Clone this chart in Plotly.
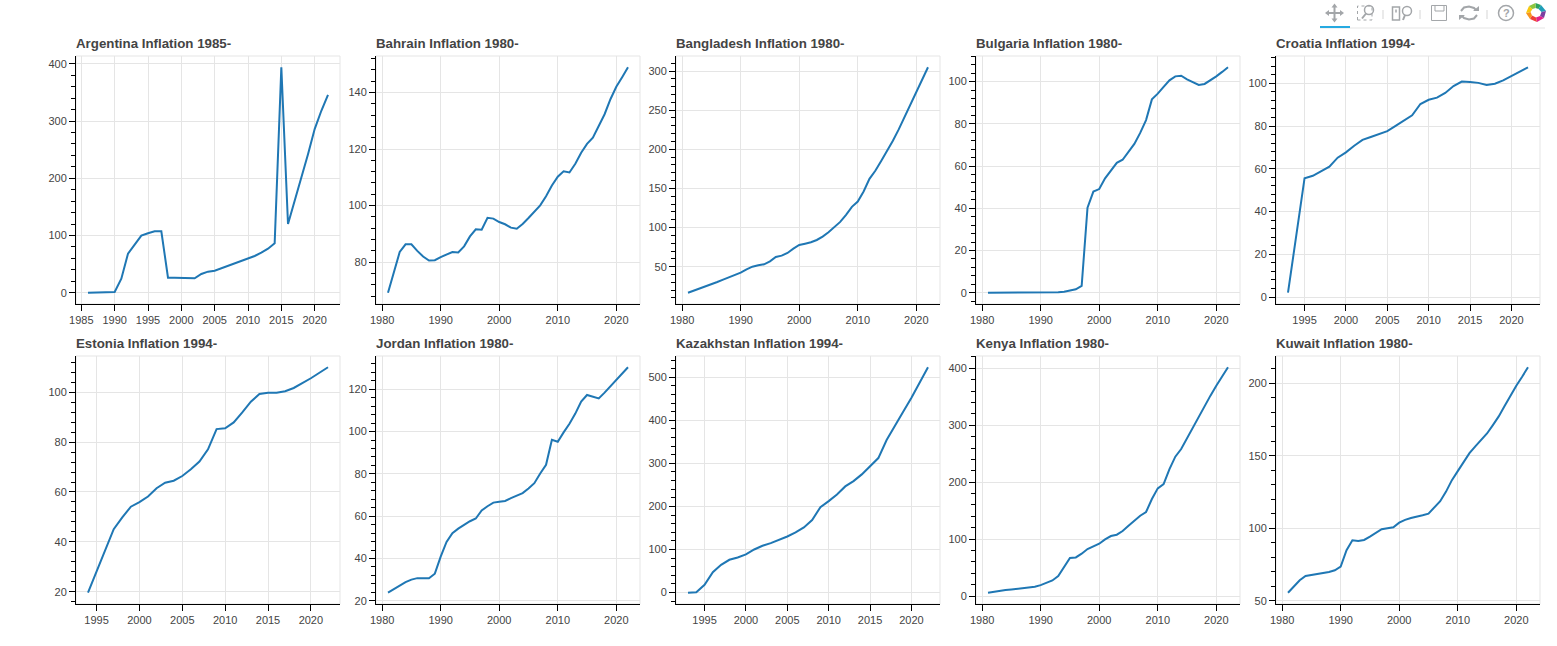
import plotly.graph_objects as go

W, H = 1557, 646

argentina_years = list(range(1986, 2023))
argentina = [0, 0, 0, 0.1, 1.2, 24.5, 68.3, 84, 99.9, 104, 107.4, 107.4, 26.3, 26.1, 25.7, 25.5, 25.1,
             32.7, 36.8, 38.5, 42.6, 47.3, 51.4, 55.5, 59, 64.2, 70, 77, 86.4, 394, 120, 160.6, 198, 242,
             286, 318, 345.7]
bahrain_years = list(range(1981, 2023))
bahrain = [69.2, 76.7, 83.6, 86.3, 86.3, 84, 82, 80.6, 80.7, 81.8, 82.8, 83.6, 83.4, 85.6, 89.1, 91.6,
           91.5, 95.7, 95.4, 94.2, 93.4, 92.2, 91.8, 93.5, 95.6, 98, 100.1, 103.3, 107.1, 110.2, 112.1,
           111.7, 114.8, 118.7, 121.8, 124, 128.4, 132.3, 137.6, 142, 145.4, 148.9]
bangladesh_years = list(range(1981, 2023))
bangladesh = [16.7, 19.3, 21.8, 24.4, 27.4, 30.4, 33.4, 36.3, 39.3, 42.3, 46.6, 50, 51.7, 53, 56.8, 62.4,
              64.1, 67.5, 73, 77.7, 79.4, 81.2, 84.1, 88.4, 94, 100.4, 107.2, 116.2, 126.4, 133.2, 146,
              162.2, 172.5, 184.9, 197.7, 210.9, 225.4, 241.2, 257, 272.8, 288.6, 304.8]
bulgaria_years = list(range(1981, 2023))
bulgaria = [0, 0, 0, 0, 0, 0, 0, 0, 0, 0, 0.05, 0.1, 0.2, 0.5, 1.0, 1.6, 3.2, 40.3, 47.9, 49.1, 54.2, 58.1,
            61.5, 63, 66.7, 70.5, 75.7, 81.8, 91.6, 94.3, 97.5, 100.6, 102.5, 102.8, 101.1, 99.8, 98.4,
            98.9, 100.5, 102.5, 104.6, 106.8]
croatia_years = list(range(1993, 2023))
croatia = [2.0, 28.8, 55.6, 56.7, 58.8, 61, 65.2, 67.7, 70.8, 73.5, 74.9, 76.2, 77.6, 80.1, 82.6, 85, 90.3,
           92.3, 93.3, 95.5, 98.7, 100.8, 100.6, 100.2, 99.2, 99.8, 101.4, 103.4, 105.5, 107.5]
estonia_years = list(range(1994, 2023))
estonia = [19.6, 28.1, 36.5, 45.1, 49.8, 54.1, 55.9, 58.2, 61.5, 63.7, 64.5, 66.4, 69.1, 72.2, 77.1, 85.2,
           85.5, 87.9, 91.9, 96.2, 99.3, 99.8, 99.8, 100.4, 101.7, 103.6, 105.6, 107.8, 110]
jordan_years = list(range(1981, 2023))
jordan = [23.8, 25.5, 27.4, 28.8, 30, 30.7, 30.7, 30.6, 32.8, 40.9, 47.8, 51.9, 54.1, 56, 57.6, 58.9, 62.7,
          64.7, 66.4, 66.8, 67.2, 68.5, 69.8, 70.9, 73.1, 75.6, 80.2, 84.3, 96.1, 95.2, 99.6, 103.7, 108.5,
          114.2, 117.3, 116.5, 115.7, 118.4, 121.4, 124.4, 127.4, 130.4]
kazakhstan_years = list(range(1993, 2023))
kazakhstan = [-0.5, 0.8, 17.8, 47.3, 64.3, 76, 81.4, 88.4, 100, 108.5, 114.7, 121.7, 130.2, 139.5, 151.2,
              168.2, 198.4, 212.4, 227.9, 246.5, 258.9, 274.4, 293.8, 312.4, 354.3, 386, 420, 452.7, 488.4,
              523.3]
kenya_years = list(range(1981, 2023))
kenya = [5.9, 7, 8.8, 10.5, 11.7, 12.9, 13.5, 14.6, 16.4, 19.3, 22.8, 27.5, 35.1, 51, 66.8, 67.9, 74.4, 82.6,
         87.3, 91.9, 99.6, 105.4, 107.8, 114.2, 123.6, 132.9, 141.1, 147.6, 170.4, 189.2, 196.8, 223.1, 244.8,
         258.3, 277, 297.5, 316.8, 334.4, 352, 369.5, 385.4, 401.8]
kuwait_years = list(range(1981, 2023))
kuwait = [55.5, 59.7, 64.1, 67.1, 67.7, 68.7, 69.4, 69.8, 71, 73.5, 84.8, 91.7, 91.2, 91.9, 94.2, 96.5, 99.3,
          100, 100.7, 103.9, 105.8, 107.1, 107.8, 109, 110.1, 114.7, 118.7, 125.3, 133.2, 139.4, 145.2, 151.8,
          156.5, 160.8, 165.4, 171.2, 177.2, 184.3, 191.5, 198.4, 204.6, 211.1]

titles = ["Argentina Inflation 1985-", "Bahrain Inflation 1980-", "Bangladesh Inflation 1980-",
          "Bulgaria Inflation 1980-", "Croatia Inflation 1994-", "Estonia Inflation 1994-",
          "Jordan Inflation 1980-", "Kazakhstan Inflation 1994-", "Kenya Inflation 1980-",
          "Kuwait Inflation 1980-"]
years = [argentina_years, bahrain_years, bangladesh_years, bulgaria_years, croatia_years,
         estonia_years, jordan_years, kazakhstan_years, kenya_years, kuwait_years]
values = [argentina, bahrain, bangladesh, bulgaria, croatia, estonia, jordan, kazakhstan, kenya, kuwait]
x_tick_steps = [5, 10, 10, 10, 5, 5, 10, 5, 10, 10]
y_tick_steps = [100, 20, 50, 20, 20, 20, 20, 100, 100, 50]

LEFTS = [76, 376, 676, 976, 1276]
TOPS = [56, 356]
PW, PH = 264, 248
INK = "#444444"
GRID = "#e5e5e5"
FONT = "Liberation Sans, Arial, Helvetica, sans-serif"


def px(v):
    return v / W


def py(v):
    return 1 - v / H


fig = go.Figure()
shapes, annotations = [], []
layout = {}

for i, (t, xs, ys, xs_step, ys_step) in enumerate(zip(titles, years, values, x_tick_steps, y_tick_steps)):
    left, top = LEFTS[i % 5], TOPS[i // 5]
    n = "" if i == 0 else str(i + 1)
    xpad = (max(xs) - min(xs)) * 0.05
    ypad = (max(ys) - min(ys)) * 0.05
    fig.add_trace(go.Scatter(x=xs, y=ys, mode="lines", xaxis="x" + n, yaxis="y" + n,
                             line=dict(color="#1f77b4", width=2, shape="linear"), showlegend=False,
                             hoverinfo="skip"))
    layout["xaxis" + n] = dict(
        domain=[px(left), px(left + PW)], anchor="y" + n, automargin=False,
        range=[min(xs) - xpad, max(xs) + xpad],
        tickmode="linear", tick0=1980, dtick=xs_step, tickformat="d",
        ticks="outside", ticklen=6, tickwidth=1, tickcolor="black",
        showline=True, linecolor="black", linewidth=1,
        showgrid=True, gridcolor=GRID, gridwidth=1, zeroline=False,
        tickfont=dict(family=FONT, size=11, color=INK),
    )
    layout["yaxis" + n] = dict(
        domain=[py(top + PH), py(top)], anchor="x" + n, automargin=False,
        range=[min(ys) - ypad, max(ys) + ypad],
        tickmode="linear", tick0=0, dtick=ys_step, tickformat="d",
        ticks="outside", ticklen=6, tickwidth=1, tickcolor="black",
        minor=dict(ticks="outside", ticklen=4, tickwidth=1, tickcolor="black",
                   tick0=0, dtick=ys_step / 5, showgrid=False),
        showline=True, linecolor="black", linewidth=1,
        showgrid=True, gridcolor=GRID, gridwidth=1, zeroline=False,
        tickfont=dict(family=FONT, size=11, color=INK),
    )
    shapes.append(dict(type="rect", xref="paper", yref="paper", x0=px(left), x1=px(left + PW),
                       y0=py(top + PH), y1=py(top), line=dict(color=GRID, width=1), layer="below"))
    annotations.append(dict(text="<b>%s</b>" % t, xref="paper", yref="paper", x=px(left - 2),
                            y=py(top - 12.5 if i < 5 else top - 13),
                            xanchor="left", yanchor="middle", showarrow=False,
                            font=dict(family=FONT, size=13.3, color=INK)))


def path(points, close=True):
    d = "M" + " L".join("%.5f,%.5f" % (px(a), py(b)) for a, b in points)
    return d + (" Z" if close else "")


def stroke(points, color="#a3a6a9", width=1.5, close=False):
    shapes.append(dict(type="path", xref="paper", yref="paper", path=path(points, close),
                       line=dict(color=color, width=width), fillcolor="rgba(0,0,0,0)"))


def fill(points, color):
    shapes.append(dict(type="path", xref="paper", yref="paper", path=path(points, True),
                       line=dict(width=0), fillcolor=color))


def seg(x0, y0, x1, y1, color, width=1):
    shapes.append(dict(type="line", xref="paper", yref="paper", x0=px(x0), x1=px(x1), y0=py(y0), y1=py(y1),
                       line=dict(color=color, width=width)))


def circle(cx, cy, r, color="#a3a6a9", width=1.5):
    shapes.append(dict(type="circle", xref="paper", yref="paper", x0=px(cx - r), x1=px(cx + r),
                       y0=py(cy + r), y1=py(cy - r), line=dict(color=color, width=width)))


# toolbar rules
seg(1320, 28, 1545, 28, GRID, 1)
seg(1320, 27, 1350, 27, "#26aae1", 2)
for sx in (1383, 1420, 1487):
    seg(sx, 10, sx, 19, "#d5d5d5", 1)

# pan
seg(1334.5, 6, 1334.5, 20.5, "#a3a6a9", 2)
seg(1327, 13, 1342, 13, "#a3a6a9", 2)
fill([(1334.5, 3.5), (1331.5, 7.5), (1337.5, 7.5)], "#a3a6a9")
fill([(1334.5, 22.5), (1331.5, 18.5), (1337.5, 18.5)], "#a3a6a9")
fill([(1325, 13), (1329, 10), (1329, 16)], "#a3a6a9")
fill([(1344, 13), (1340, 10), (1340, 16)], "#a3a6a9")

# box zoom
shapes.append(dict(type="rect", xref="paper", yref="paper", x0=px(1357.5), x1=px(1372), y0=py(20), y1=py(6),
                   line=dict(color="#a3a6a9", width=1, dash="dot")))
circle(1369, 10, 4.5)
seg(1366, 13.5, 1362, 18.5, "#a3a6a9", 2)

# wheel zoom
shapes.append(dict(type="rect", xref="paper", yref="paper", x0=px(1392.5), x1=px(1399.5), y0=py(20), y1=py(7),
                   line=dict(color="#a3a6a9", width=1.5)))
seg(1396, 9.5, 1396, 12.5, "#a3a6a9", 1.5)
circle(1407, 11, 4.5)
seg(1405, 15, 1403, 20, "#a3a6a9", 2)

# save
stroke([(1431.5, 5.5), (1446.5, 5.5), (1446.5, 20.5), (1431.5, 20.5)], close=True, width=1)
stroke([(1435, 5.5), (1435, 11), (1444, 11), (1444, 5.5)], width=1)

# reset
stroke([(1461, 11), (1464, 7.5), (1469, 6.5), (1474, 8), (1476, 10)], width=2)
stroke([(1477, 15), (1474, 18.5), (1469, 19.5), (1464, 18), (1462, 16)], width=2)
fill([(1473, 11), (1479, 11), (1479, 6)], "#a3a6a9")
fill([(1459, 15), (1465, 15), (1459, 20)], "#a3a6a9")

# help
circle(1506, 13, 7.5)
annotations.append(dict(text="<b>?</b>", xref="paper", yref="paper", x=px(1506), y=py(13), xanchor="center",
                        yanchor="middle", showarrow=False, font=dict(family=FONT, size=11, color="#a3a6a9")))

# logo
LOGO = [((1535.5, 3), (1541, 5), (1538.5, 9), (1535.5, 8), "#2ca25f"),
        ((1541, 5), (1546, 11), (1541.5, 12), (1538.5, 9), "#1f9eb8"),
        ((1546, 11), (1544, 18), (1540, 16), (1541.5, 12), "#7b3fa0"),
        ((1544, 18), (1537, 22), (1536, 17.5), (1540, 16), "#e0218a"),
        ((1537, 22), (1530, 19), (1532, 15.5), (1536, 17.5), "#ef4136"),
        ((1530, 19), (1526, 13), (1530.5, 12), (1532, 15.5), "#f7941d"),
        ((1526, 13), (1529, 6), (1532.5, 9), (1530.5, 12), "#f9c80e"),
        ((1529, 6), (1535.5, 3), (1535.5, 8), (1532.5, 9), "#8cc63f")]
for a, b, c, d, col in LOGO:
    fill([a, b, c, d], col)

fig.update_layout(
    width=W, height=H, autosize=False,
    margin=dict(l=0, r=0, t=0, b=0, pad=0),
    paper_bgcolor="white", plot_bgcolor="white",
    showlegend=False, shapes=shapes, annotations=annotations,
    **layout,
)

fig.write_html("out.html", config=dict(displayModeBar=False, responsive=False),
               post_script="document.body.style.margin='0';document.body.style.overflow='hidden';")
